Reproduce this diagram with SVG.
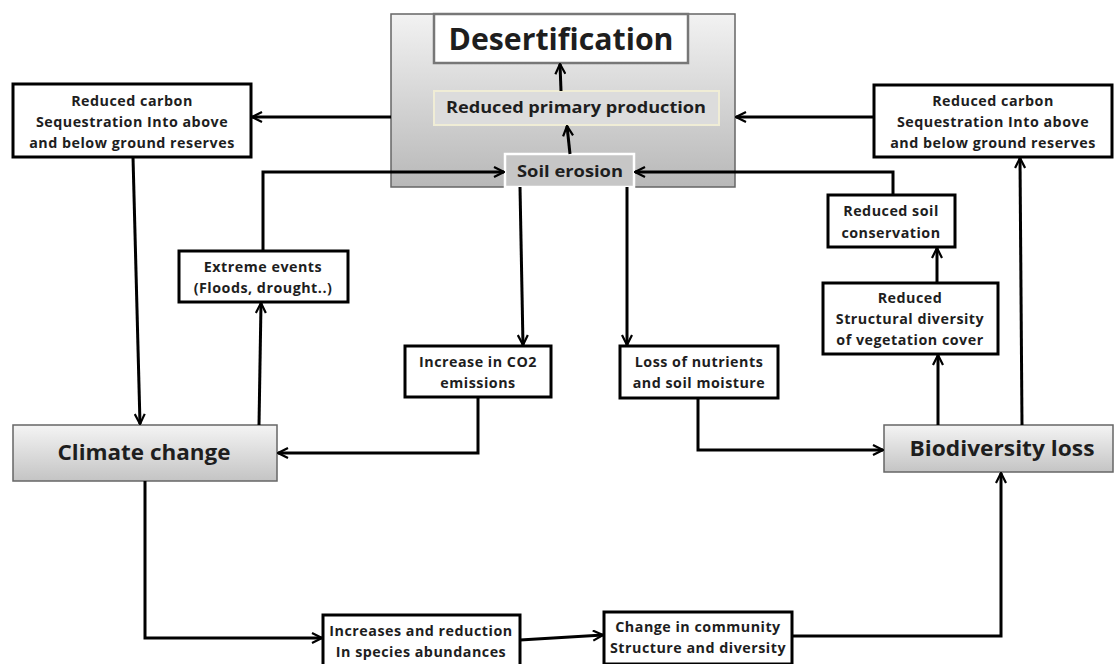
<svg xmlns="http://www.w3.org/2000/svg" width="1120" height="664" viewBox="0 0 1120 664">
<defs>
<linearGradient id="gBig" x1="0" y1="0" x2="0" y2="1">
<stop offset="0" stop-color="#f2f2f2"/>
<stop offset="1" stop-color="#b8b8b8"/>
</linearGradient>
<linearGradient id="gNode" x1="0" y1="0" x2="0" y2="1">
<stop offset="0" stop-color="#f4f4f4"/>
<stop offset="1" stop-color="#c4c4c4"/>
</linearGradient>
<marker id="ah" viewBox="0 0 12 12" refX="11" refY="6" markerWidth="12" markerHeight="12" markerUnits="userSpaceOnUse" orient="auto">
<path d="M1,1 L11,6 L1,11" fill="none" stroke="#000" stroke-width="2.2"/>
</marker>
</defs>
<style>
.box{fill:#fff;stroke:#000;stroke-width:3}
.t{font-family:"Open Sans",Lato,sans-serif;font-weight:bold;fill:#1e1e1e;text-anchor:middle}
.s{font-size:14.3px;letter-spacing:0.5px}
.c{fill:none;stroke:#000;stroke-width:3;marker-end:url(#ah)}
</style>
<rect width="1120" height="664" fill="#fff"/>
<g id="desertification-area">
<rect x="391" y="14" width="344" height="173" fill="url(#gBig)" stroke="#666" stroke-width="1.5"/>
</g>
<g id="desertification">
<rect x="434" y="14" width="254" height="49" fill="#fff" stroke="#777" stroke-width="2.5"/>
<text class="t" x="561" y="50" font-size="31" textLength="225" lengthAdjust="spacingAndGlyphs">Desertification</text>
</g>
<g id="reduced-primary-production">
<rect x="434" y="91" width="285" height="34" fill="#dcdcdc" stroke="#f0edd6" stroke-width="2"/>
<text class="t" x="576" y="113" font-size="16" textLength="260" lengthAdjust="spacingAndGlyphs">Reduced primary production</text>
</g>
<g id="soil-erosion">
<rect x="505" y="154" width="129" height="33" fill="#c6c6c6" stroke="#fff" stroke-width="2.5"/>
<text class="t" x="570" y="177" font-size="16" textLength="106" lengthAdjust="spacingAndGlyphs">Soil erosion</text>
</g>
<g id="carbon-left">
<rect class="box" x="13" y="84" width="238" height="73"/>
<text class="t s" x="132" y="106">Reduced carbon</text>
<text class="t s" x="132" y="127">Sequestration Into above</text>
<text class="t s" x="132" y="148">and below ground reserves</text>
</g>
<g id="carbon-right">
<rect class="box" x="874" y="85" width="238" height="72"/>
<text class="t s" x="993" y="106">Reduced carbon</text>
<text class="t s" x="993" y="127">Sequestration Into above</text>
<text class="t s" x="993" y="148">and below ground reserves</text>
</g>
<g id="extreme-events">
<rect class="box" x="179" y="251" width="169" height="51"/>
<text class="t s" x="263" y="272">Extreme events</text>
<text class="t s" x="263" y="293">(Floods, drought..)</text>
</g>
<g id="co2">
<rect class="box" x="405" y="346" width="146" height="51"/>
<text class="t s" x="478" y="367">Increase in CO2</text>
<text class="t s" x="478" y="388">emissions</text>
</g>
<g id="nutrients">
<rect class="box" x="620" y="346" width="158" height="52"/>
<text class="t s" x="699" y="367">Loss of nutrients</text>
<text class="t s" x="699" y="388">and soil moisture</text>
</g>
<g id="soil-conservation">
<rect class="box" x="828" y="195" width="127" height="52"/>
<text class="t s" x="891" y="216">Reduced soil</text>
<text class="t s" x="891" y="238">conservation</text>
</g>
<g id="structural-diversity">
<rect class="box" x="823" y="283" width="175" height="71"/>
<text class="t s" x="910" y="303">Reduced</text>
<text class="t s" x="910" y="324">Structural diversity</text>
<text class="t s" x="910" y="345">of vegetation cover</text>
</g>
<g id="climate-change">
<rect x="13" y="425" width="264" height="56" fill="url(#gNode)" stroke="#666" stroke-width="1.5"/>
<text class="t" x="144" y="460" font-size="21" textLength="173" lengthAdjust="spacingAndGlyphs">Climate change</text>
</g>
<g id="biodiversity-loss">
<rect x="884" y="425" width="229" height="47" fill="url(#gNode)" stroke="#666" stroke-width="1.5"/>
<text class="t" x="1002" y="456" font-size="21" textLength="185" lengthAdjust="spacingAndGlyphs">Biodiversity loss</text>
</g>
<g id="species-abundances">
<rect class="box" x="323" y="615" width="197" height="52"/>
<text class="t s" x="421" y="636">Increases and reduction</text>
<text class="t s" x="421" y="657">In species abundances</text>
</g>
<g id="community">
<rect class="box" x="604" y="612" width="188" height="52"/>
<text class="t s" x="698" y="632">Change in community</text>
<text class="t s" x="698" y="653">Structure and diversity</text>
</g>
<g id="connectors">
<path class="c" d="M570,154 L567,126"/>
<path class="c" d="M561,91 L560,64"/>
<path class="c" d="M391,117 L252,117"/>
<path class="c" d="M874,117 L736,117"/>
<path class="c" d="M133,157 L140,424"/>
<path class="c" d="M259,425 L261,303"/>
<path class="c" d="M263,251 L263,172 L504,172"/>
<path class="c" d="M520,187 L523,345"/>
<path class="c" d="M627,187 L627,345"/>
<path class="c" d="M478,397 L478,453 L278,453"/>
<path class="c" d="M698,398 L698,450 L883,450"/>
<path class="c" d="M938,425 L938,355"/>
<path class="c" d="M937,283 L937,248"/>
<path class="c" d="M893,195 L893,172 L635,172"/>
<path class="c" d="M1022,425 L1020,158"/>
<path class="c" d="M145,481 L145,638 L322,638"/>
<path class="c" d="M520,640 L603,635"/>
<path class="c" d="M792,636 L1001,636 L1001,473"/>
</g>
</svg>
